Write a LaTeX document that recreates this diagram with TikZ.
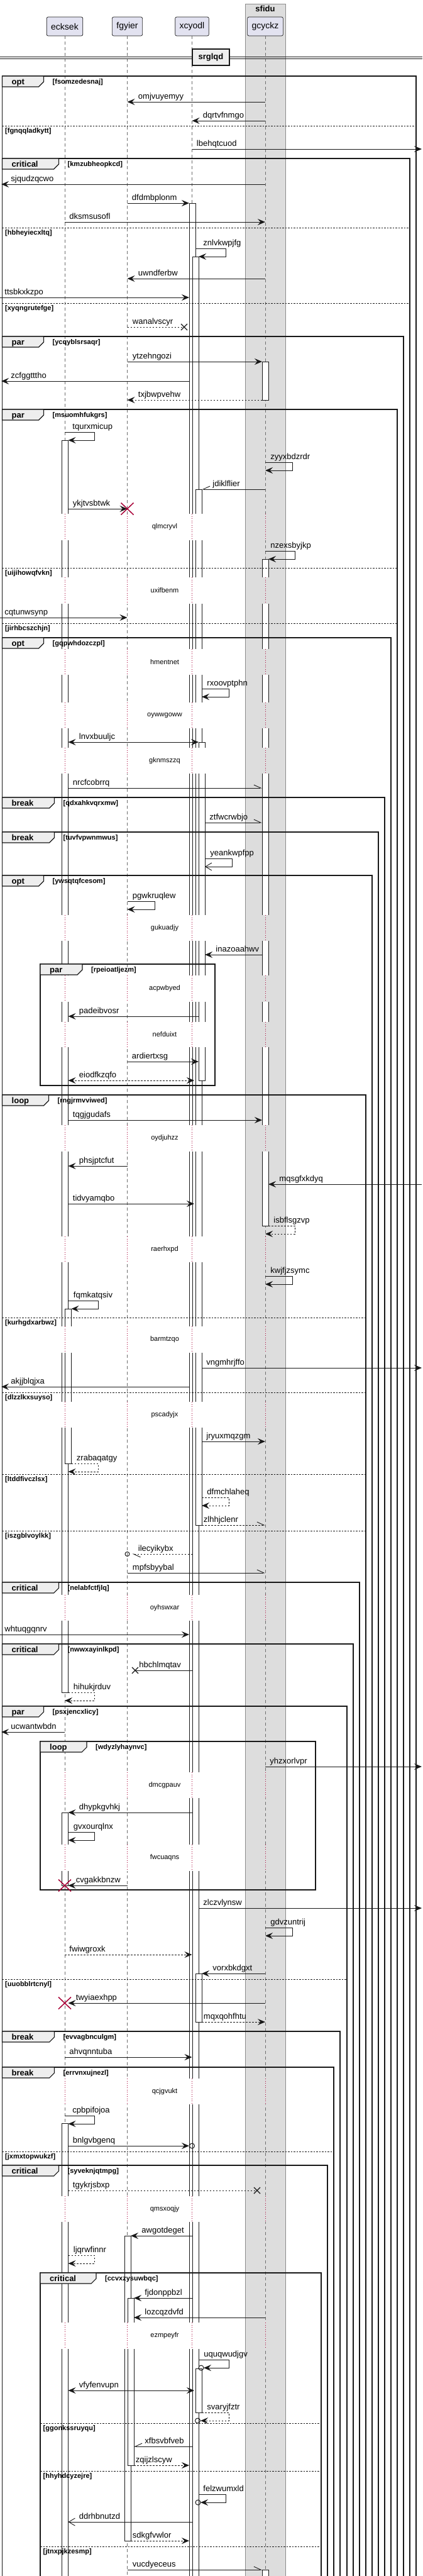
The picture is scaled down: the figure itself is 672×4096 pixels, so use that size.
\documentclass[tikz,border=0pt]{standalone}
\usepackage{fontspec}
\setmainfont{Liberation Sans}
\usetikzlibrary{arrows.meta}
\definecolor{seqline}{HTML}{181818}
\definecolor{seqlife}{HTML}{6E6E6E}
\definecolor{seqhead}{HTML}{E2E2F0}
\definecolor{seqbox}{HTML}{DDDDDD}
\definecolor{seqboxedge}{HTML}{8C8C8C}
\definecolor{seqtab}{HTML}{EEEEEE}
\definecolor{seqred}{HTML}{A80036}

% message, label just after the sending end
\newcommand{\msgR}[6][7pt]{\draw[#2] (#3 |- 0,#5) node[lbl, xshift=#1] {#6} -- (#4 |- 0,#5);}
% message, label just after the arrow tip on the left
\newcommand{\msgL}[6][17pt]{\draw[#2] (#3 |- 0,#5) -- (#4 |- 0,#5) node[lbl, xshift=#1] {#6};}
% message to self: start, top y, loop width, return point
\newcommand{\msgS}[7][8pt]{\draw[#2] (#3 |- 0,#4) node[lbl, xshift=#1] {#7} -- ++(#5,0) -- ++(0,13) coordinate (back) -- (#6 |- back);}
% activation bar: left x, top, bottom
\newcommand{\actbar}[3]{\filldraw[actbox] (#1,#2) rectangle (#1+10,#3);}
% combined fragment: top, left, right, bottom, tab width, keyword, guard
\newcommand{\seqfrag}[7]{%
  \draw[fragline] (#2,#1) rectangle (#3,#4);
  \filldraw[fragtab] (#2,#1) -- ++(#5,0) -- ++(0,9) -- ++(-8,8) -- (#2,#1+17) -- cycle;
  \node[fragkw] at (#2+15,#1+13.5) {#6};
  \node[guard] at (#2+#5+14,#1+12.5) {#7};}
\newcommand{\seqelse}[4]{%
  \draw[elseline] (#2,#1) -- (#3,#1);
  \node[guard] at (#2+4.5,#1+11.5) {#4};}
\newcommand{\lostat}[2]{\draw[lostx] (#1 |- 0,#2) +(-5,-5) -- +(5,5) +(-5,5) -- +(5,-5);}
\newcommand{\killat}[2]{\draw[kill] (#1 |- 0,#2) +(-10,-9.5) -- +(10,9.5) +(-10,9.5) -- +(10,-9.5);}

\begin{document}
\begin{tikzpicture}[x=1pt, y=-1pt, >={Stealth[length=12pt,width=10pt,inset=4.5pt]},
  msg/.style={draw=seqline, line width=0.9pt, ->},
  twoway/.style={msg, <->},
  reply/.style={msg, dash pattern=on 2.5pt off 2.5pt},
  twowayd/.style={reply, <->},
  halfr/.style={msg, arrows={-Straight Barb[left,length=11pt,width=10pt]}},
  halfl/.style={msg, arrows={-Straight Barb[right,length=11pt,width=10pt]}},
  replyhalf/.style={reply, arrows={-Straight Barb[left,length=11pt,width=10pt]}},
  openhead/.style={msg, arrows={-Straight Barb[length=10pt,width=12pt]}},
  nohead/.style={msg, arrows=-},
  lbl/.style={anchor=base west, inner sep=0pt, yshift=5pt, font=\fontsize{13}{15}\selectfont},
  life/.style={draw=seqlife, line width=0.7pt, dash pattern=on 5pt off 4pt},
  delayline/.style={draw=seqred, line width=0.8pt, dash pattern=on 1pt off 2.5pt},
  delaytxt/.style={inner sep=0pt, font=\fontsize{11}{13}\selectfont},
  actbox/.style={draw=seqline, fill=white, line width=0.8pt},
  fragline/.style={draw=seqline, line width=1.3pt},
  fragtab/.style={draw=seqline, fill=seqtab, line width=1.1pt},
  fragkw/.style={anchor=base west, inner sep=0pt, font=\bfseries\fontsize{13}{15}\selectfont},
  guard/.style={anchor=base west, inner sep=0pt, font=\bfseries\fontsize{11}{13}\selectfont},
  elseline/.style={draw=seqline, line width=0.8pt, dash pattern=on 2.5pt off 2pt},
  partbox/.style={draw=seqline, fill=seqhead, rounded corners=2.5pt, line width=0.7pt,
    minimum height=30pt, inner xsep=7pt, inner ysep=0pt, font=\fontsize{14}{16}\selectfont},
  lostx/.style={draw=seqline, line width=1.3pt},
  kill/.style={draw=seqred, line width=1.5pt},
  ocirc/.style={draw=seqline, line width=1pt},
  sfbox/.style={fill=seqbox, draw=seqboxedge, line width=0.6pt},
  divbox/.style={draw=seqline, fill=seqtab, line width=1.6pt, minimum width=59pt,
    minimum height=26pt, inner sep=0pt, font=\bfseries\fontsize{13}{15}\selectfont}]
  \useasboundingbox (0,0) rectangle (672,4096);
  \clip (0,0) rectangle (672,4096);
  \fill[white] (0,0) rectangle (672,4096);

  % box round gcyckz
  \filldraw[sfbox] (390,6) rectangle (454,4110);
  \node[font=\bfseries\fontsize{13}{15}\selectfont] (sfidu) at (422,14) {sfidu};

  % participants
  \node[partbox] (ecksek) at (103,42) {ecksek};
  \node[partbox] (fgyier) at (202.5,42) {fgyier};
  \node[partbox] (xcyodl) at (305.5,42) {xcyodl};
  \node[partbox] (gcyckz) at (422,42) {gcyckz};
  \foreach \who in {ecksek,fgyier,xcyodl,gcyckz}
    \draw[life] (\who.south) -- (\who |- 0,4110);

  % edges of the page and of the activation bars
  \coordinate (lft0) at (0,0);
  \coordinate (lft)  at (2,0);
  \coordinate (rgt)  at (671,0);
  \coordinate (ek1)  at (108.5,0);
  \coordinate (ek2)  at (113.5,0);
  \coordinate (fg1)  at (208,0);
  \coordinate (fg2)  at (213,0);
  \coordinate (xa)   at (301,0);
  \coordinate (xb)   at (306,0);
  \coordinate (xc)   at (311,0);
  \coordinate (xd)   at (316,0);
  \coordinate (xe)   at (321,0);
  \coordinate (xf)   at (326,0);
  \coordinate (xm)   at (309,0);
  \coordinate (gl)   at (417,0);
  \coordinate (gr)   at (427,0);
  \coordinate (lx1)  at (293,0);
  \coordinate (lx2)  at (215,0);
  \coordinate (lx3)  at (409,0);

  % activation bars
  \actbar{98.5}{700}{2691}
  \actbar{103.5}{2081}{2327}
  \actbar{98.5}{2882}{2998}
  \actbar{98.5}{3376}{4110}
  \actbar{198}{3555}{4040}
  \actbar{203}{3654}{3920}
  \actbar{301}{323}{4110}
  \actbar{306}{408}{4110}
  \actbar{311}{778}{2425}
  \actbar{316}{1180}{1718}
  \actbar{311}{3138}{3215}
  \actbar{311}{3766}{3836}
  \actbar{417}{575}{636}
  \actbar{417}{889}{1949}
  \actbar{417}{4086}{4110}

  % delays: bars broken, lifelines dotted
  \foreach \ya/\yb/\txt in {817/859/qlmcryvl, 918/960/uxifbenm, 1032/1073/hmentnet,
      1117/1158/oywwgoww, 1189/1230/gknmszzq, 1455/1496/gukuadjy, 1551/1593/acpwbyed,
      1625/1665/nefduixt, 1789/1831/oydjuhzz, 1966/2007/raerhxpd, 2109/2151/barmtzqo,
      2229/2270/pscadyjx, 2536/2577/oyhswxar, 2818/2859/dmcgpauv, 2933/2975/fwcuaqns,
      3305/3346/qcjgvukt, 3492/3533/qmsxoqjy, 3693/3735/ezmpeyfr}{
    \fill[white] (96,\ya) rectangle (117,\yb);
    \fill[white] (195,\ya) rectangle (216,\yb);
    \fill[white] (298,\ya) rectangle (329,\yb);
    \fill[seqbox] (414,\ya) rectangle (430,\yb);
    \foreach \who in {ecksek,fgyier,xcyodl,gcyckz}
      \draw[delayline] (\who |- 0,\ya) -- (\who |- 0,\yb);
    \node[delaytxt] (delay-\ya) at (262,{(\ya+\yb)/2}) {\txt};
  }

  % fragments
  \seqfrag{121}{3.5}{662}{4110}{66}{opt}{[fsomzedesnaj]}
  \seqelse{200}{3.5}{662}{[fgnqqladkytt]}
  \seqfrag{252}{3.5}{652}{4110}{90}{critical}{[kmzubheopkcd]}
  \seqelse{362}{3.5}{652}{[hbheyiecxltq]}
  \seqelse{482}{3.5}{652}{[xyqngrutefge]}
  \seqfrag{535}{3.5}{642}{4110}{66}{par}{[ycqyblsrsaqr]}
  \seqfrag{651}{3.5}{632}{4110}{66}{par}{[msuomhfukgrs]}
  \seqelse{903}{3.5}{632}{[uijihowqfvkn]}
  \seqelse{991}{3.5}{632}{[jirhbcszchjn]}
  \seqfrag{1014}{3.5}{622}{4110}{66}{opt}{[gqpwhdozczpl]}
  \seqfrag{1268}{3.5}{612}{4110}{83}{break}{[qdxahkvqrxmw]}
  \seqfrag{1323}{3.5}{602}{4110}{83}{break}{[tuvfvpwnmwus]}
  \seqfrag{1392}{3.5}{592}{4110}{66}{opt}{[ywsqtqfcesom]}
  \seqfrag{1533}{64}{342}{1726}{67}{par}{[rpeioatljezm]}
  \seqfrag{1741}{3.5}{582}{4110}{74}{loop}{[rngjrmvviwed]}
  \seqelse{2095}{3.5}{582}{[kurhgdxarbwz]}
  \seqelse{2214}{3.5}{582}{[dlzzlkxsuyso]}
  \seqelse{2344}{3.5}{582}{[ltddfivczlsx]}
  \seqelse{2434}{3.5}{582}{[iszgblvoylkk]}
  \seqfrag{2516}{3.5}{572}{4110}{90}{critical}{[nelabfctfjlq]}
  \seqfrag{2614}{3.5}{562}{4110}{90}{critical}{[nwwxayinlkpd]}
  \seqfrag{2713}{3.5}{552}{4110}{66}{par}{[psxjencxlicy]}
  \seqfrag{2769}{64}{502}{3005}{74}{loop}{[wdyzlyhaynvc]}
  \seqelse{3147}{3.5}{552}{[uuobblrtcnyl]}
  \seqfrag{3230}{3.5}{541}{4110}{83}{break}{[evvagbnculgm]}
  \seqfrag{3287}{3.5}{531}{4110}{83}{break}{[errvnxujnezl]}
  \seqelse{3421}{3.5}{531}{[jxmxtopwukzf]}
  \seqfrag{3443}{3.5}{521}{4110}{90}{critical}{[syveknjqtmpg]}
  \seqfrag{3614}{64}{511}{4110}{89}{critical}{[ccvxzysuwbqc]}
  \seqelse{3853}{64}{511}{[ggonkssruyqu]}
  \seqelse{3929}{64}{511}{[hhyhdcyzejre]}
  \seqelse{4049}{64}{511}{[jtnxpjkzesmp]}

  % divider
  \draw[seqline, line width=0.9pt] (0,90) -- (672,90) (0,93) -- (672,93);
  \node[divbox] (srglqd) at (335.5,91) {srglqd};

  % messages, top to bottom
  \msgL{msg}{gcyckz}{fgyier}{162}{omjvuyemyy}
  \msgL{msg}{gcyckz}{xcyodl}{192}{dqrtvfnmgo}
  \msgR{msg}{xcyodl}{rgt}{237}{lbehqtcuod}
  \msgL[15pt]{msg}{gcyckz}{lft}{293}{sjqudzqcwo}
  \msgR{msg}{fgyier}{xa}{323}{dfdmbplonm}
  \msgR{msg}{ecksek}{gcyckz}{353}{dksmsusofl}
  \msgS[12pt]{msg}{xc}{395}{48}{xd}{znlvkwpjfg}
  \msgL{msg}{gcyckz}{fgyier}{443}{uwndferbw}
  \msgR{msg}{lft0}{xa}{473}{ttsbkxkzpo}
  \msgR[8pt]{reply, arrows=-}{fgyier}{lx1}{520}{wanalvscyr}
  \lostat{lx1}{520}
  \msgR[8pt]{msg}{fgyier}{gl}{575}{ytzehngozi}
  \msgL[15pt]{msg}{xa}{lft}{606}{zcfggtttho}
  \msgL{reply}{gl}{fgyier}{636}{txjbwpvehw}
  \msgS[12pt]{msg}{ecksek}{687}{47}{ek1}{tqurxmicup}
  \msgS{msg}{gcyckz}{735}{43}{gcyckz}{zyyxbdzrdr}
  \msgL{halfl}{gcyckz}{xe}{778}{jdiklflier}
  \msgR{msg}{ek1}{fgyier}{809}{ykjtvsbtwk}
  \killat{fgyier}{809}
  \msgS{msg}{gcyckz}{876}{47}{gr}{nzexsbyjkp}
  \msgR{msg}{lft0}{fgyier}{982}{cqtunwsynp}
  \msgS{msg}{xe}{1095}{43}{xe}{rxoovptphn}
  \msgL{twoway}{xd}{ek1}{1180}{lnvxbuuljc}
  \msgR{halfr}{ek1}{gl}{1253}{nrcfcobrrq}
  \msgR{halfr}{xf}{gl}{1308}{ztfwcrwbjo}
  \msgS{openhead}{xf}{1365}{43}{xf}{yeankwpfpp}
  \msgS{msg}{fgyier}{1433}{44}{fgyier}{pgwkruqlew}
  \msgL{msg}{gl}{xf}{1518}{inazoaahwv}
  \msgL{msg}{xd}{ek1}{1616}{padeibvosr}
  \msgR{msg}{fgyier}{xd}{1688}{ardiertxsg}
  \msgL{twowayd}{xm}{ek1}{1718}{eiodfkzqfo}
  \msgR{msg}{ek1}{gl}{1781}{tqgjgudafs}
  \msgL{msg}{fgyier}{ek1}{1854}{phsjptcfut}
  \msgL{msg}{rgt}{gr}{1883}{mqsgfxkdyq}
  \msgR{msg}{ek1}{xm}{1914}{tidvyamqbo}
  \msgS{reply}{gr}{1949}{42}{gcyckz}{isbflsgzvp}
  \msgS{msg}{gcyckz}{2029}{43}{gcyckz}{kwjfjzsymc}
  \msgS{msg}{ek1}{2068}{47.5}{ek2}{fqmkatqsiv}
  \msgR{msg}{xe}{rgt}{2175}{vngmhrjffo}
  \msgL[15pt]{msg}{xa}{lft}{2205}{akjjblqjxa}
  \msgR{msg}{xe}{gcyckz}{2292}{jryuxmqzgm}
  \msgS{reply}{ek2}{2327}{42.5}{ek1}{zrabaqatgy}
  \msgS{reply}{xe}{2381}{43}{xe}{dfmchlaheq}
  \msgR[2.5pt]{replyhalf}{xe}{gcyckz}{2425}{zlhhjclenr}
  \msgL{replyhalf, shorten >=8pt}{xb}{fgyier}{2471}{ilecyikybx}
  \draw[ocirc] (fgyier |- 0,2471) circle (3.5pt);
  \msgR[8pt]{halfr}{fgyier}{gcyckz}{2501}{mpfsbyybal}
  \msgR{msg}{lft0}{xa}{2599}{whtuqgqnrv}
  \msgL[6pt]{nohead}{xb}{lx2}{2656}{hbchlmqtav}
  \lostat{lx2}{2656}
  \msgS{reply}{ek1}{2691}{41.5}{ecksek}{hihukjrduv}
  \msgL[15pt]{msg}{ecksek}{lft}{2754}{ucwantwbdn}
  \msgR{msg}{gcyckz}{rgt}{2809}{yhzxorlvpr}
  \msgL{msg}{xb}{ek1}{2882}{dhypkgvhkj}
  \msgS{msg}{ek1}{2913}{41.5}{ek1}{gvxourqlnx}
  \msgL[12pt]{msg}{fgyier}{ek1}{2998}{cvgakkbnzw}
  \killat{ecksek}{2998}
  \msgR{msg}{xd}{rgt}{3034}{zlczvlynsw}
  \msgS{msg}{gcyckz}{3065}{43}{gcyckz}{gdvzuntrij}
  \msgR{reply}{ecksek}{xcyodl}{3108}{fwiwgroxk}
  \msgL{msg}{gcyckz}{xe}{3138}{vorxbkdgxt}
  \msgL[12pt]{msg}{gcyckz}{ek1}{3185}{twyiaexhpp}
  \killat{ecksek}{3185}
  \msgR[2.5pt]{reply}{xe}{gcyckz}{3215}{mqxqohfhtu}
  \msgR{msg}{ecksek}{xcyodl}{3271}{ahvqnntuba}
  \msgS[12pt]{msg}{ecksek}{3364}{47}{ek1}{cpbpifojoa}
  \msgR{msg}{ek1}{xa}{3412}{bnlgvbgenq}
  \draw[ocirc] (xcyodl |- 0,3412) circle (4pt);
  \msgR{reply, arrows=-}{ek1}{lx3}{3483}{tgykrjsbxp}
  \lostat{lx3}{3483}
  \msgL{msg}{xb}{fg1}{3555}{awgotdeget}
  \msgS{reply}{ek1}{3586}{41.5}{ek1}{ljqrwfinnr}
  \msgL{msg}{xb}{fg2}{3654}{fjdonppbzl}
  \msgL{msg}{gcyckz}{fg2}{3685}{lozcqzdvfd}
  \draw[msg] (xd |- 0,3752) node[lbl, xshift=8pt] {uquqwudjgv} -- ++(48,0) -- ++(0,13) -- ++(-40,0);
  \draw[ocirc] (320,3765) circle (4pt);
  \msgL{twoway}{xm}{ek1}{3801}{vfyfenvupn}
  \draw[reply] (xe |- 0,3836) node[lbl, xshift=8pt] {svaryjfztr} -- ++(43,0) -- ++(0,13) -- ++(-45,0);
  \draw[ocirc] (314.5,3849) circle (4pt);
  \msgL{halfl}{xb}{fg2}{3890}{xfbsvbfveb}
  \msgR[2.5pt]{reply}{fg2}{xa}{3920}{zqijzlscyw}
  \draw[msg] (xd |- 0,3966) node[lbl, xshift=7pt] {felzwumxld} -- ++(43,0) -- ++(0,13) -- ++(-40,0);
  \draw[ocirc] (315,3979) circle (4pt);
  \msgL{openhead}{xb}{ek1}{4010}{ddrhbnutzd}
  \msgR[2.5pt]{reply}{fg1}{xa}{4040}{sdkgfvwlor}
  \msgR[8pt]{halfr}{fgyier}{gl}{4086}{vucdyeceus}
\end{tikzpicture}
\end{document}
